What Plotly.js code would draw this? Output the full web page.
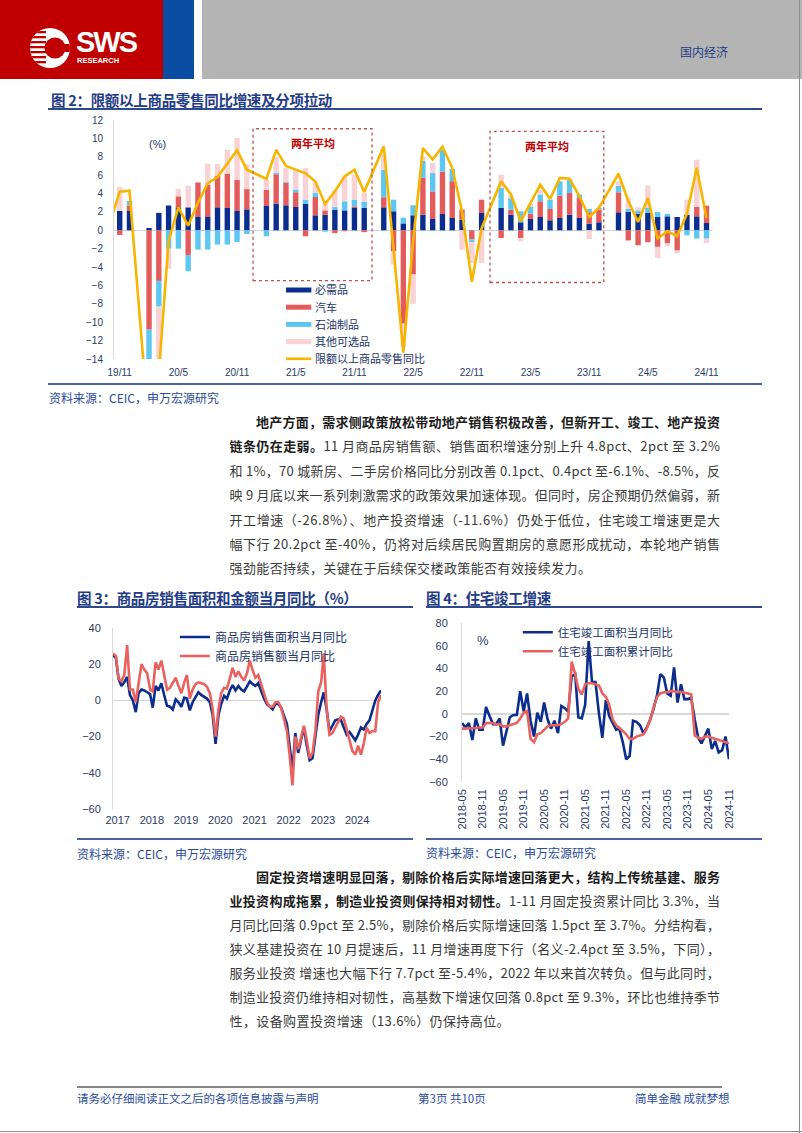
<!DOCTYPE html>
<html><head><meta charset="utf-8">
<script src="https://cdn.plot.ly/plotly-3.0.1.min.js"></script>
<style>
body{margin:0;width:802px;height:1133px;position:relative;overflow:hidden;background:#fff;font-family:"Noto Sans CJK SC","Liberation Sans",sans-serif;}
.a{position:absolute;white-space:nowrap;}
.chart{position:absolute;}
.t{font-weight:bold;font-size:14.5px;color:#1f3c88;line-height:18px;letter-spacing:-0.3px;}
.rule{position:absolute;background:#2e4a8c;height:2px;}
.src{font-size:12px;color:#2a4b9b;line-height:16px;}
.p{font-size:13px;color:#3a3a3a;line-height:18px;}
.p b{color:#1c1c1c;}
.foot{font-size:11.5px;color:#2a4b9b;line-height:14px;}
</style></head><body>

<div id="c2" class="chart" style="left:0;top:110px;width:802px;height:280px"></div>
<div id="c3" class="chart" style="left:0;top:600px;width:410px;height:240px"></div>
<div id="c4" class="chart" style="left:410px;top:600px;width:392px;height:240px"></div>

<!-- header -->
<div class="a" style="left:0;top:0;width:163px;height:79px;background:#c00000"></div>
<div class="a" style="left:163px;top:0;width:31px;height:79px;background:#0a4ea3"></div>
<div class="a" style="left:202px;top:0;width:600px;height:79px;background:#b4b4b4"></div>
<svg class="a" style="left:0;top:0" width="163" height="79">
  <defs><clipPath id="cc"><circle cx="50" cy="48" r="20"/></clipPath></defs>
  <circle cx="50" cy="48" r="20" fill="#fff"/>
  <g clip-path="url(#cc)" fill="#c00000">
    <rect x="28" y="31" width="18" height="2.3"/><rect x="28" y="36" width="18" height="2.3"/>
    <rect x="28" y="41" width="18" height="2.3"/><rect x="28" y="46" width="18" height="2.3"/>
    <rect x="28" y="51" width="18" height="2.3"/><rect x="28" y="56" width="18" height="2.3"/>
    <rect x="28" y="61" width="18" height="2.3"/>
    <rect x="60" y="44" width="14" height="8"/>
  </g>
  <circle cx="55" cy="48" r="10.5" fill="#c00000"/>
</svg>
<div class="a" style="left:76px;top:29px;font:bold 29px 'Liberation Sans';letter-spacing:-2px;color:#fff;line-height:27px">SWS</div>
<div class="a" style="left:77px;top:57px;font:bold 7.5px 'Liberation Sans';color:#fff;line-height:8px">RESEARCH</div>
<div class="a" style="left:680px;top:44px;font-size:12px;color:#1f3c88;line-height:16px">国内经济</div>

<!-- figure 2 -->
<div class="a t" style="left:51px;top:91px">图 2：限额以上商品零售同比增速及分项拉动</div>
<div class="rule" style="left:48px;top:108px;width:714px"></div>
<div class="rule" style="left:48px;top:383px;width:714px;background:#4a63a0"></div>
<div class="a src" style="left:49px;top:390px">资料来源：CEIC，申万宏源研究</div>

<!-- paragraph 1 -->
<div class="a p jl" data-w="464" style="left:256px;top:413px"><span><b>地产方面，需求侧政策放松带动地产销售积极改善，但新开工、竣工、地产投资</b></span></div>
<div class="a p jl" data-w="490.5" style="left:229.5px;top:437.4px"><span><b>链条仍在走弱。</b>11 月商品房销售额、销售面积增速分别上升 4.8pct、2pct 至 3.2%</span></div>
<div class="a p jl" data-w="490.5" style="left:229.5px;top:461.8px"><span>和 1%，70 城新房、二手房价格同比分别改善 0.1pct、0.4pct 至-6.1%、-8.5%，反</span></div>
<div class="a p jl" data-w="490.5" style="left:229.5px;top:486.2px"><span>映 9 月底以来一系列刺激需求的政策效果加速体现。但同时，房企预期仍然偏弱，新</span></div>
<div class="a p jl" data-w="490.5" style="left:229.5px;top:510.6px"><span>开工增速（-26.8%）、地产投资增速（-11.6%）仍处于低位，住宅竣工增速更是大</span></div>
<div class="a p jl" data-w="490.5" style="left:229.5px;top:535px"><span>幅下行 20.2pct 至-40%，仍将对后续居民购置期房的意愿形成扰动，本轮地产销售</span></div>
<div class="a p" style="left:229.5px;top:559.4px;letter-spacing:0.4px"><span>强劲能否持续，关键在于后续保交楼政策能否有效接续发力。</span></div>

<!-- figure 3 / 4 titles -->
<div class="a t" style="left:77px;top:589px">图 3：商品房销售面积和金额当月同比（%）</div>
<div class="rule" style="left:77px;top:606px;width:336px"></div>
<div class="a t" style="left:426px;top:589px">图 4：住宅竣工增速</div>
<div class="rule" style="left:426px;top:606px;width:336px"></div>
<div class="rule" style="left:77px;top:838px;width:336px;background:#4a63a0"></div>
<div class="rule" style="left:426px;top:838px;width:336px;background:#4a63a0"></div>
<div class="a src" style="left:77px;top:846px">资料来源：CEIC，申万宏源研究</div>
<div class="a src" style="left:426px;top:845px">资料来源：CEIC，申万宏源研究</div>

<!-- paragraph 2 -->
<div class="a p jl" data-w="464" style="left:256px;top:867.7px"><span><b>固定投资增速明显回落，剔除价格后实际增速回落更大，结构上传统基建、服务</b></span></div>
<div class="a p jl" data-w="490.5" style="left:229.5px;top:891.7px"><span><b>业投资构成拖累，制造业投资则保持相对韧性。</b>1-11 月固定投资累计同比 3.3%，当</span></div>
<div class="a p jl" data-w="490.5" style="left:229.5px;top:915.7px"><span>月同比回落 0.9pct 至 2.5%，剔除价格后实际增速回落 1.5pct 至 3.7%。分结构看，</span></div>
<div class="a p jl" data-w="490.5" style="left:229.5px;top:939.7px"><span>狭义基建投资在 10 月提速后，11 月增速再度下行（名义-2.4pct 至 3.5%，下同），</span></div>
<div class="a p jl" data-w="490.5" style="left:229.5px;top:963.7px"><span>服务业投资  增速也大幅下行 7.7pct 至-5.4%，2022 年以来首次转负。但与此同时，</span></div>
<div class="a p jl" data-w="490.5" style="left:229.5px;top:987.7px"><span>制造业投资仍维持相对韧性，高基数下增速仅回落 0.8pct 至 9.3%，环比也维持季节</span></div>
<div class="a p" style="left:229.5px;top:1011.7px;letter-spacing:0.4px"><span>性，设备购置投资增速（13.6%）仍保持高位。</span></div>

<!-- footer -->
<div class="a" style="left:77px;top:1086px;width:645px;height:2px;background:#858585"></div>
<div class="a foot" style="left:77px;top:1091px">请务必仔细阅读正文之后的各项信息披露与声明</div>
<div class="a foot" style="left:418px;top:1091px">第3页 共10页</div>
<div class="a foot" style="left:635px;top:1091px">简单金融 成就梦想</div>
<div class="a" style="left:799px;top:0;width:1px;height:1133px;background:#8c8c8c"></div>
<div class="a" style="left:0;top:1131px;width:802px;height:1px;background:#8c8c8c"></div>

<script>
// ---------- Figure 2 data ----------
const months2 = ['19/10','19/11','19/12','20/1','20/2','20/3','20/4','20/5','20/6','20/7','20/8','20/9','20/10','20/11','20/12',
 '21/1','21/2','21/3','21/4','21/5','21/6','21/7','21/8','21/9','21/10','21/11','21/12',
 '22/1','22/2','22/3','22/4','22/5','22/6','22/7','22/8','22/9','22/10','22/11','22/12',
 '23/1','23/2','23/3','23/4','23/5','23/6','23/7','23/8','23/9','23/10','23/11','23/12',
 '24/1','24/2','24/3','24/4','24/5','24/6','24/7','24/8','24/9','24/10','24/11'];
const ticks2 = ['19/11','20/5','20/11','21/5','21/11','22/5','22/11','23/5','23/11','24/5','24/11'];
const need2 = [null,2.1,2.1,null,0.25,1.9,2.7,2.5,2.5,1.45,1.45,2.5,2.43,2.1,2.28,
 null,2.65,2.9,2.72,2.54,2.9,1.63,1.7,2.25,2.17,2.43,2.43,
 null,2.5,2.07,0.75,1.63,1.7,1.23,1.78,1.34,1.16,0,1.88,
 null,2.43,1.7,0.87,1.23,1.45,1.09,1.34,1.7,1.34,0.72,0.87,
 null,1.96,2.0,1.8,1.88,1.45,1.52,1.45,1.7,1.52,0.8];
const auto2 = [null,-0.5,0.6,null,-10.8,-5.5,0,1.2,-2.7,3.75,3.5,3.45,3.73,3.37,2.2,
 null,1.75,3.2,2.46,1.6,-0.65,2.0,0.47,-0.3,-0.1,0.17,-0.2,
 null,1.1,-2.28,-10.15,-4.8,4.0,3.0,4.6,4.0,1.1,-1.0,1.45,
 null,-0.83,0.55,-0.83,0.57,1.7,1.23,2.43,2.36,2.16,1.24,1.38,
 null,2.17,-1.1,-1.63,-1.3,-1.8,-1.38,-2.2,0,1.05,1.88];
const oil2 = [null,0,0.5,null,-4.0,-2.8,-2.0,-2.0,-1.75,-2.1,-2.1,-1.55,-1.55,-1.27,-0.4,
 null,-0.65,0.15,0.12,0.3,0.43,0.44,-0.15,0.3,0.98,0.73,0.65,
 null,3.0,1.26,0.63,1.09,1.87,2.0,2.37,1.33,0,-0.27,0,
 null,2.17,1.25,1.2,0.8,0.75,1.01,1.56,1.44,0.4,0.36,0.18,
 null,0.73,0.36,0.37,0.55,0.55,0.26,0,-0.54,-0.9,-0.9];
const other2 = [null,2.6,0,null,-7.2,-7.5,-2.2,0.8,2.35,0,2.3,1.27,2.6,4.56,2.72,
 null,1.1,1.7,1.48,2.2,3.45,1.1,0.8,1.76,2.72,2.72,1.0,
 null,1.6,-1.45,-2.5,-3.2,0.45,1.1,0,0,-2.1,-2.28,-3.55,
 null,1.45,0.3,-0.37,0.3,0.5,0,0,0,0,-0.94,0,
 null,0.45,1.14,0.33,2.43,-1.2,-0.36,-0.3,1.63,5.1,-0.48];
const total2 = [0.8,4.2,4.3,null,-21.8,-15.5,-1.2,2.5,0.5,3.0,5.1,5.8,7.2,8.7,6.6,
 null,5.6,8.75,7.0,6.6,6.2,5.3,2.86,4.24,5.87,6.6,4.17,
 null,9.13,-2.1,-13.3,-1.2,8.95,7.7,9.1,6.8,2.07,-5.6,0.2,
 null,5.33,3.9,0.98,2.9,4.96,3.4,5.7,5.6,3.7,1.45,2.43,
 null,6.15,3.2,0.9,3.5,-0.9,-0.1,-0.65,1.8,6.8,1.3];
const names2 = ['必需品','汽车','石油制品','其他可选品','限额以上商品零售同比'];
const colors2 = ['#0b2d8e','#e35b5a','#5cc8f2','#f9d2d5','#f7b500'];

// ---------- Figure 3 data (2017-01 .. 2024-11) ----------
const area3 = [25,23.5,12,8,10,13,3,0,-6.5,4,6,5.5,
 4.5,3.5,-4,8,5.5,9.5,3,-3,-3.5,-5,0.5,-1,
 -3.5,1.5,1,-5.5,-1,2,4.5,3,2,1,-1,-8,
 -24,-8,-2,2.5,1,5.5,8.5,5.5,8,6,5,8,
 10.5,9,8,9.5,5,1,-2,-3.5,-5,-2,-2,-4,
 -8,-13,-25,-39,-18,-29,-22,-15,-25,-33,-32,-20,
 -8,-1,4.4,-5,-17,-14,-11,-10.5,-11,-15,-19,-17.5,
 -20,-22,-19,-15,-16,-13,-11,-5,0,3,5.5];
const amount3 = [26,24.5,12,10.5,14,30.5,6,6,-1,10,20,17,
 15,6,5,21,17,22,13,6,7,9.5,12.5,8,
 4,10,14,1,6,9,10,9.5,9,7.5,4,-5,
 -20,-5,4,7,6.5,12,18,13,16,13,11,15,
 22,16.5,12.5,14,9,3,-1,-3.5,-3.5,-1,-1,-4,
 -10,-17,-30,-47,-20,-27,-21,-14,-22,-32,-29,-17,
 5,10,26,-5,-19,-18,-15,-12,-9,-10,-16,-22,
 -28,-30,-25,-30,-24,-15,-18,-17,-17,-1,3];
const years3 = ['2017','2018','2019','2020','2021','2022','2023','2024'];

// ---------- Figure 4 data (2018-05 .. 2024-11) ----------
const monthly4 = [-8,-12,-8,-23,-4,-14,-14,6,-2,-9,-9,-4,-28,-14,-3,-1,-1,20,2,18,
 -6,-20,1,-7,10,-5,-13,-6,-17,7,5,2,33,35,-3,-4,8,64,28,28,
 0,-21,12,-2,-8,-14,-13,-25,-40,-37,-6,-7,-10,-17,-12,-5,5,17,35,32,
 18,16,41,10,26,13,13,14,-5,-21,-26,-20,-13,-31,-24,-34,-32,-20,-40];
const cum4 = [-13,-13,-12.5,-12.5,-12.5,-12,-12,-8,-8,-8,-9.5,-9,-11,-11,-10,-9,-8,-4,1,2.5,
 -22,-25,-18,-17,-14,-11,-10,-10,-10,-9,-7,-4,46,35,22,17,26,27,27,26,
 25,18,15,8,-5,-10,-12,-15,-18,-22,-22,-20,-19,-18,-13,-5,6,15,18,19,
 19,20,20,19,19.5,19,18,17,-19,-21,-22,-20,-20,-21,-22,-23,-24,-25,-26];

function monthSeq(y, m, n){
  const out=[];
  for(let k=0;k<n;k++){
    const yy=y+Math.floor((m-1+k)/12), mm=(m-1+k)%12+1;
    out.push(yy+'-'+String(mm).padStart(2,'0')+'-01');
  }
  return out;
}
const months3 = monthSeq(2017,1,area3.length);
const months4 = monthSeq(2018,5,monthly4.length);

const FONT = 'Liberation Sans, Noto Sans CJK SC, sans-serif';
const TICKC = '#2b3a67';
const cfg = {staticPlot:true, displayModeBar:false};

// ---------- Figure 2 ----------
(function(){
  const series = [need2, auto2, oil2, other2];
  const traces = series.map((s,i)=>({type:'bar', x:months2, y:s, name:names2[i],
    marker:{color:colors2[i], line:{width:0}}, showlegend:false}));
  traces.push({type:'scatter', mode:'lines', x:months2, y:total2, name:names2[4],
    line:{color:colors2[4], width:2.6}, connectgaps:true, showlegend:false});
  // manual legend (shapes + annotations in paper coords)
  const legY = [0.2887,0.2167,0.1447,0.0728,0.0008];
  const shapes = [
    {type:'rect', xref:'x', yref:'y', x0:14.63, x1:26.8, y0:-5.47, y1:11.05, line:{color:'#c0504d', width:1.3, dash:'dot'}},
    {type:'rect', xref:'x', yref:'y', x0:38.86, x1:50.5, y0:-5.68, y1:10.76, line:{color:'#c0504d', width:1.3, dash:'dot'}}
  ];
  const ann = [
    {xref:'paper', yref:'paper', x:0.056, y:0.933, text:'(%)', showarrow:false, font:{size:11, color:TICKC}},
    {xref:'x', yref:'y', x:20.73, y:9.42, text:'<b>两年平均</b>', showarrow:false, font:{size:11, color:'#c00000'}},
    {xref:'x', yref:'y', x:44.66, y:9.13, text:'<b>两年平均</b>', showarrow:false, font:{size:11, color:'#c00000'}}
  ];
  names2.forEach((n,i)=>{
    shapes.push({type:'line', xref:'paper', yref:'paper', x0:0.2876, x1:0.330, y0:legY[i], y1:legY[i],
      line:{color:colors2[i], width: i<4 ? 5 : 2.6}});
    ann.push({xref:'paper', yref:'paper', x:0.3330, y:legY[i], xanchor:'left', yanchor:'middle', text:n,
      showarrow:false, font:{size:11, color:'#22346b'}});
  });
  Plotly.newPlot('c2', traces, {
    width:802, height:280, margin:{l:114, r:90, t:10, b:31},
    paper_bgcolor:'rgba(0,0,0,0)', plot_bgcolor:'rgba(0,0,0,0)',
    font:{family:FONT, size:10, color:TICKC},
    barmode:'relative', bargap:0.45, showlegend:false,
    xaxis:{type:'category', categoryorder:'array', categoryarray:months2, range:[0.417,61.56],
      tickmode:'array', tickvals:ticks2, ticktext:ticks2, showgrid:false, showline:false, zeroline:false,
      ticks:'', ticklabelstandoff:6, tickfont:{size:10, color:TICKC}},
    yaxis:{range:[-14,12], dtick:2, showgrid:false, showline:true, linecolor:'#d9d9d9', linewidth:1,
      zeroline:true, zerolinecolor:'#cdd5e6', zerolinewidth:1, ticks:'', ticklabelstandoff:8,
      tickfont:{size:10, color:TICKC}},
    shapes:shapes, annotations:ann
  }, cfg);
})();

// ---------- Figure 3 ----------
(function(){
  const traces = [
    {type:'scatter', mode:'lines', x:months3, y:area3, name:'商品房销售面积当月同比', line:{color:'#0b2d8e', width:2.6}},
    {type:'scatter', mode:'lines', x:months3, y:amount3, name:'商品房销售额当月同比', line:{color:'#e9625e', width:2.6}}
  ];
  Plotly.newPlot('c3', traces, {
    width:410, height:240, margin:{l:113, r:29, t:28, b:31},
    paper_bgcolor:'rgba(0,0,0,0)', plot_bgcolor:'rgba(0,0,0,0)',
    font:{family:FONT, size:11, color:TICKC},
    xaxis:{type:'date', range:['2017-01-01','2024-11-01'], tickmode:'array',
      tickvals:years3.map(y=>y+'-02-20'), ticktext:years3, showgrid:false, showline:false, zeroline:false,
      ticks:'', ticklabelstandoff:3, tickfont:{size:11, color:TICKC}},
    yaxis:{range:[-60,40], dtick:20, showgrid:false, showline:true, linecolor:'#d9d9d9', linewidth:1,
      zeroline:true, zerolinecolor:'#d4d4d4', zerolinewidth:1.5, ticks:'', ticklabelstandoff:9,
      tickfont:{size:11, color:TICKC}},
    showlegend:true,
    legend:{x:0.231, y:1.03, xanchor:'left', yanchor:'top', bgcolor:'rgba(0,0,0,0)',
      font:{size:12, color:'#22346b'}, itemwidth:30}
  }, cfg);
})();

// ---------- Figure 4 ----------
(function(){
  const traces = [
    {type:'scatter', mode:'lines', x:months4, y:monthly4, name:'住宅竣工面积当月同比', line:{color:'#0b2d8e', width:2.6}},
    {type:'scatter', mode:'lines', x:months4, y:cum4, name:'住宅竣工面积累计同比', line:{color:'#e9625e', width:2.6}}
  ];
  const tv4 = months4.filter((_,k)=>k%6===0);
  Plotly.newPlot('c4', traces, {
    width:392, height:240, margin:{l:52, r:73, t:23, b:58},
    paper_bgcolor:'rgba(0,0,0,0)', plot_bgcolor:'rgba(0,0,0,0)',
    font:{family:FONT, size:11, color:TICKC},
    xaxis:{type:'date', range:['2018-05-01','2024-11-01'], tickmode:'array', tickvals:tv4,
      tickformat:'%Y-%m', tickangle:-90, showgrid:false, showline:false, zeroline:false,
      ticks:'', ticklabelstandoff:4, tickfont:{size:11, color:TICKC}},
    yaxis:{range:[-60,80], dtick:20, showgrid:false, showline:true, linecolor:'#d9d9d9', linewidth:1,
      zeroline:true, zerolinecolor:'#d9d9d9', zerolinewidth:2, ticks:'', ticklabelstandoff:11,
      tickfont:{size:11, color:TICKC}},
    showlegend:true,
    legend:{x:0.209, y:1.033, xanchor:'left', yanchor:'top', bgcolor:'rgba(0,0,0,0)',
      font:{size:11.5, color:'#22346b'}, itemwidth:30},
    annotations:[{xref:'paper', yref:'paper', x:0.05, y:0.947, text:'%', showarrow:false,
      font:{size:13, color:TICKC}}]
  }, cfg);
})();

// ---------- justify body text lines ----------
function justifyLines(){
  document.querySelectorAll('.jl').forEach(el=>{
    const W = parseFloat(el.dataset.w);
    el.style.letterSpacing = '0px';
    const span = el.firstElementChild;
    const w = span.getBoundingClientRect().width;
    const n = span.textContent.length;
    el.style.letterSpacing = ((W - w)/(n-1)) + 'px';
  });
}
justifyLines();
if (document.fonts && document.fonts.ready) document.fonts.ready.then(justifyLines);
</script>
</body></html>
